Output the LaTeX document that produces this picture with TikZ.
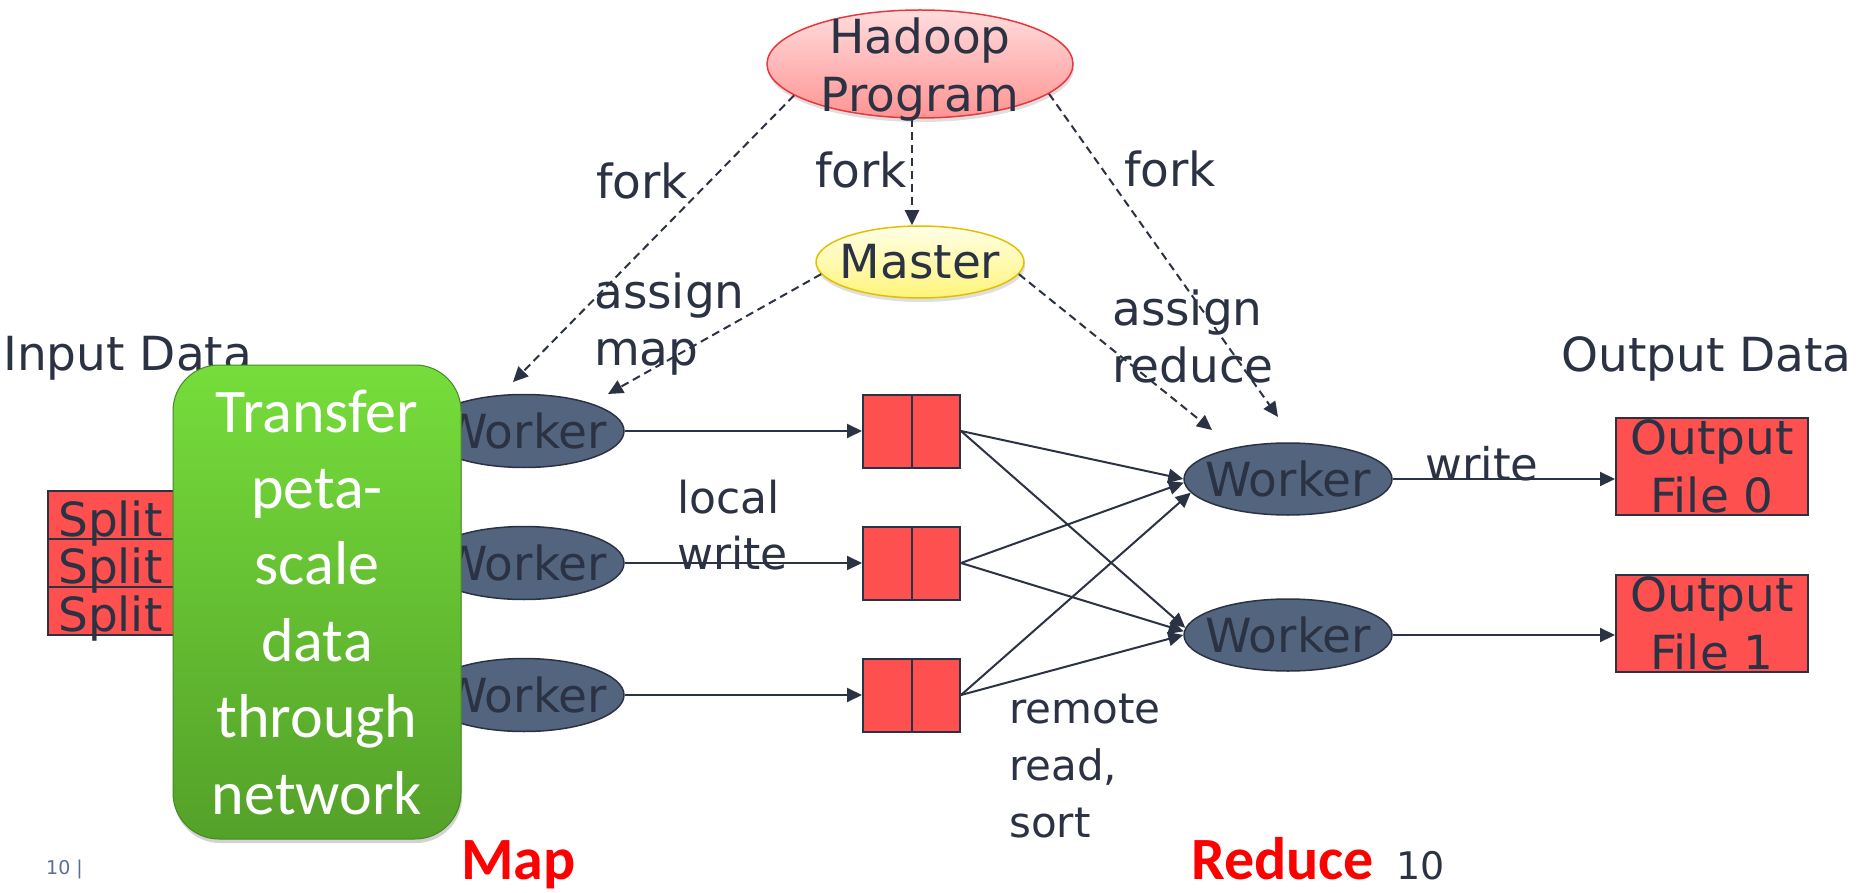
\documentclass[tikz,border=0pt]{standalone}
\usepackage{fontspec}
\setmainfont{DejaVu Sans}
\newfontfamily\calib{Carlito}
\usetikzlibrary{shapes.geometric,arrows.meta,shadows}
\definecolor{ink}{HTML}{2B3243}
\definecolor{wfill}{HTML}{53647F}
\definecolor{boxred}{HTML}{FF5050}
\definecolor{hadtop}{HTML}{FFDCDC}
\definecolor{hadbot}{HTML}{FF9494}
\definecolor{hadline}{HTML}{E8383C}
\definecolor{mastop}{HTML}{FFFFE6}
\definecolor{masbot}{HTML}{FFF47A}
\definecolor{masline}{HTML}{E6BE00}
\definecolor{gtop}{HTML}{76DD3B}
\definecolor{gbot}{HTML}{54A129}
\definecolor{pagenum}{HTML}{5B6E99}
\begin{document}
\begin{tikzpicture}[x=1pt,y=-1pt,
  txt/.style={inner sep=0pt, text=ink, font=\fontsize{47}{57}\selectfont},
  lab/.style={txt, anchor=base west, align=left},
  worker/.style={ellipse, draw=ink, line width=1.5pt, fill=wfill, inner sep=0pt,
     minimum width=200, minimum height=73,
     label={[txt]center:Worker}},
  rworker/.style={worker, minimum width=208, minimum height=72},
  queue/.style={rectangle, draw=ink, line width=2pt, fill=boxred, inner sep=0pt,
     minimum width=97, minimum height=73,
     path picture={\draw[ink, line width=2pt] (path picture bounding box.north) -- (path picture bounding box.south);}},
  splitbox/.style={rectangle, draw=ink, line width=2pt, fill=boxred, inner sep=0pt,
     minimum width=152, minimum height=48},
  outbox/.style={rectangle, draw=ink, line width=2pt, fill=boxred, inner sep=0pt,
     minimum width=192, minimum height=97, align=center, text=ink,
     font=\fontsize{47}{58}\selectfont},
  conn/.style={draw=ink, line width=2pt, -{Triangle[length=15pt,width=14pt]}},
  dconn/.style={conn, dash pattern=on 8pt off 5pt},
  redlab/.style={inner sep=0pt, anchor=base west, text=red, font=\calib\bfseries\fontsize{60}{70}\selectfont}
]
\useasboundingbox[fill=white] (0,0) rectangle (1863,893);

% side titles
\node[lab] (indata) at (3,370) {Input Data};
\node[lab] (outdata) at (1561,371) {Output Data};

% split boxes
\node[splitbox] (s1) at (124,515) {};
\node[splitbox] (s2) at (124,563) {};
\node[splitbox] (s3) at (124,611) {};
\node[lab] (st1) at (58,536) {Split};
\node[lab] (st2) at (58,583) {Split};
\node[lab] (st3) at (58,631) {Split};

% map workers
\node[worker] (w1) at (524,431) {};
\node[worker] (w2) at (524,563) {};
\node[worker] (w3) at (524,695) {};

% transfer box
\node[rectangle, rounded corners=46pt, minimum width=288, minimum height=474,
      top color=gtop, bottom color=gbot, draw=gbot!85!black, line width=1pt,
      drop shadow={opacity=0.35, shadow xshift=1pt, shadow yshift=-4pt}] (xfer) at (317,602) {};
\node[inner sep=0pt, anchor=base, align=center, text=white,
      font=\calib\fontsize{62}{76.4}\selectfont] (xfertext) at (317,814)
      {Transfer\\peta-\\scale\\data\\through\\network};

% Hadoop program and master
\node[ellipse, minimum width=306, minimum height=108, inner sep=0pt,
      top color=hadtop, bottom color=hadbot, draw=hadline, line width=1.5pt,
      drop shadow={opacity=0.25, shadow xshift=1pt, shadow yshift=-4pt}] (hadoop) at (920,64) {};
\node[txt, anchor=base] (hadt1) at (920,54) {Hadoop};
\node[txt, anchor=base] (hadt2) at (920,112) {Program};
\node[ellipse, minimum width=208, minimum height=72, inner sep=0pt,
      top color=mastop, bottom color=masbot, draw=masline, line width=1.5pt,
      drop shadow={opacity=0.25, shadow xshift=1pt, shadow yshift=-4pt},
      label={[txt]center:Master}] (master) at (920,262) {};

% intermediate files
\node[queue] (q1) at (911.5,431) {};
\node[queue] (q2) at (911.5,563) {};
\node[queue] (q3) at (911.5,695) {};

% reduce workers
\node[rworker] (r1) at (1288,479) {};
\node[rworker] (r2) at (1288,635) {};

% output files
\node[outbox] (o0) at (1712,466) {Output\\File 0};
\node[outbox] (o1) at (1712,623) {Output\\File 1};

% dashed control arrows
\coordinate (tw1a) at (513,382);
\coordinate (tw1b) at (608,394);
\coordinate (tr1a) at (1278,417);
\coordinate (tr1b) at (1212,430);
\draw[dconn] ([xshift=-8pt]hadoop.south) -- ([xshift=-8pt]master.north);
\draw[dconn] (hadoop.194) -- (tw1a);
\draw[dconn] (master.187) -- (tw1b);
\draw[dconn] (hadoop.347) -- (tr1a);
\draw[dconn] (master.353) -- (tr1b);

% data arrows
\draw[conn] (w1.east) -- (q1.west);
\draw[conn] (w2.east) -- (q2.west);
\draw[conn] (w3.east) -- (q3.west);
\draw[conn] (q1.east) -- (r1.west);
\draw[conn] (q2.east) -- (r1.182);
\draw[conn] (q3.east) -- (r1.188);
\draw[conn] (q1.east) -- (r2.176);
\draw[conn] (q2.east) -- (r2.178);
\draw[conn] (q3.east) -- (r2.west);
\draw[conn] (r1.east) -- (r1.east -| o0.west);
\draw[conn] (r2.east) -- (r2.east -| o1.west);

% labels (anchored at the baseline of their last line)
\node[lab] (fork1) at (596,199) {fork};
\node[lab] (fork2) at (815,188) {fork};
\node[lab] (fork3) at (1124,187) {fork};
\node[lab] (amap) at (594,365) {assign\\map};
\node[lab] (ared) at (1112,382) {assign\\reduce};
\node[lab, font=\fontsize{44}{56}\selectfont] (lwrite) at (677,569) {local\\write};
\node[lab, font=\fontsize{45}{56}\selectfont] (write) at (1425,480) {write};
\node[lab, font=\fontsize{42}{57}\selectfont] (rrs) at (1009,837) {remote\\read,\\sort};

% footer
\node[redlab] (maplab) at (461,879) {Map};
\node[redlab] (redlab) at (1191,879) {Reduce};
\node[lab, font=\fontsize{38}{46}\selectfont] (num) at (1396,879) {10};
\node[lab, text=pagenum, font=\fontsize{19}{23}\selectfont] (pnum) at (46,874) {10 |};
\end{tikzpicture}
\end{document}
